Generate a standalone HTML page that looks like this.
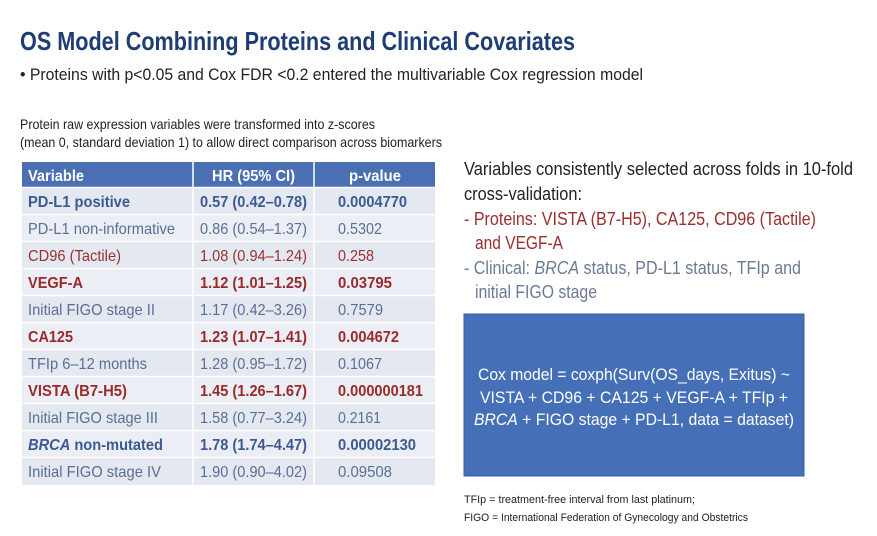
<!DOCTYPE html>
<html><head><meta charset="utf-8"><style>
html,body{margin:0;padding:0;background:#fff;}
svg{display:block;font-family:"Liberation Sans",Arial,sans-serif;}
</style></head><body>
<svg width="877" height="536" viewBox="0 0 877 536" xmlns="http://www.w3.org/2000/svg">
<rect width="877" height="536" fill="#fff"/>
<text x="20" y="50" font-size="26" font-weight="bold" fill="#1f3d75" textLength="555" lengthAdjust="spacingAndGlyphs">OS Model Combining Proteins and Clinical Covariates</text>
<text x="20" y="80" font-size="17" fill="#222" textLength="623" lengthAdjust="spacingAndGlyphs">• Proteins with p&lt;0.05 and Cox FDR &lt;0.2 entered the multivariable Cox regression model</text>
<text x="20" y="129" font-size="14" fill="#222" textLength="355" lengthAdjust="spacingAndGlyphs">Protein raw expression variables were transformed into z-scores</text>
<text x="20" y="147" font-size="14" fill="#222" textLength="422" lengthAdjust="spacingAndGlyphs">(mean 0, standard deviation 1) to allow direct comparison across biomarkers</text>

<rect x="22" y="162" width="413" height="25" fill="#4a6fb3"/>
<rect x="22" y="188" width="413" height="297" fill="#e3e8f1"/>
<g fill="#ebeef5">
<rect x="22" y="215" width="413" height="26"/><rect x="22" y="269" width="413" height="26"/><rect x="22" y="323" width="413" height="26"/><rect x="22" y="377" width="413" height="26"/><rect x="22" y="431" width="413" height="26"/>
</g>
<g stroke="#fff" stroke-width="1.5">
<line x1="193" y1="162" x2="193" y2="485"/><line x1="314" y1="162" x2="314" y2="485"/>
<line x1="22" y1="187.5" x2="435" y2="187.5"/><line x1="22" y1="214.5" x2="435" y2="214.5"/><line x1="22" y1="241.5" x2="435" y2="241.5"/><line x1="22" y1="268.5" x2="435" y2="268.5"/><line x1="22" y1="295.5" x2="435" y2="295.5"/><line x1="22" y1="322.5" x2="435" y2="322.5"/><line x1="22" y1="349.5" x2="435" y2="349.5"/><line x1="22" y1="376.5" x2="435" y2="376.5"/><line x1="22" y1="403.5" x2="435" y2="403.5"/><line x1="22" y1="430.5" x2="435" y2="430.5"/><line x1="22" y1="457.5" x2="435" y2="457.5"/>
</g>
<g font-size="16" font-weight="bold" fill="#fff">
<text x="28" y="181" textLength="56" lengthAdjust="spacingAndGlyphs">Variable</text>
<text x="212" y="181" textLength="83" lengthAdjust="spacingAndGlyphs">HR (95% CI)</text>
<text x="349" y="181" textLength="52" lengthAdjust="spacingAndGlyphs">p-value</text>
</g>
<g font-size="16">
<g font-weight="bold" fill="#3b5a92"><text x="28" y="207" textLength="102" lengthAdjust="spacingAndGlyphs">PD-L1 positive</text><text x="200" y="207" textLength="107" lengthAdjust="spacingAndGlyphs">0.57 (0.42–0.78)</text><text x="338" y="207" textLength="69" lengthAdjust="spacingAndGlyphs">0.0004770</text></g>
<g fill="#5b6f93"><text x="28" y="234" textLength="147" lengthAdjust="spacingAndGlyphs">PD-L1 non-informative</text><text x="200" y="234" textLength="107" lengthAdjust="spacingAndGlyphs">0.86 (0.54–1.37)</text><text x="338" y="234" textLength="44" lengthAdjust="spacingAndGlyphs">0.5302</text></g>
<g fill="#9a3030"><text x="28" y="261" textLength="93" lengthAdjust="spacingAndGlyphs">CD96 (Tactile)</text><text x="200" y="261" textLength="107" lengthAdjust="spacingAndGlyphs">1.08 (0.94–1.24)</text><text x="338" y="261" textLength="36" lengthAdjust="spacingAndGlyphs">0.258</text></g>
<g font-weight="bold" fill="#9a2a2a"><text x="28" y="288" textLength="55" lengthAdjust="spacingAndGlyphs">VEGF-A</text><text x="200" y="288" textLength="107" lengthAdjust="spacingAndGlyphs">1.12 (1.01–1.25)</text><text x="338" y="288" textLength="54" lengthAdjust="spacingAndGlyphs">0.03795</text></g>
<g fill="#5b6f93"><text x="28" y="315" textLength="127" lengthAdjust="spacingAndGlyphs">Initial FIGO stage II</text><text x="200" y="315" textLength="107" lengthAdjust="spacingAndGlyphs">1.17 (0.42–3.26)</text><text x="338" y="315" textLength="45" lengthAdjust="spacingAndGlyphs">0.7579</text></g>
<g font-weight="bold" fill="#9a2a2a"><text x="28" y="342" textLength="45" lengthAdjust="spacingAndGlyphs">CA125</text><text x="200" y="342" textLength="107" lengthAdjust="spacingAndGlyphs">1.23 (1.07–1.41)</text><text x="338" y="342" textLength="61" lengthAdjust="spacingAndGlyphs">0.004672</text></g>
<g fill="#5b6f93"><text x="28" y="369" textLength="119" lengthAdjust="spacingAndGlyphs">TFIp 6–12 months</text><text x="200" y="369" textLength="107" lengthAdjust="spacingAndGlyphs">1.28 (0.95–1.72)</text><text x="338" y="369" textLength="44" lengthAdjust="spacingAndGlyphs">0.1067</text></g>
<g font-weight="bold" fill="#9a2a2a"><text x="28" y="396" textLength="99" lengthAdjust="spacingAndGlyphs">VISTA (B7-H5)</text><text x="200" y="396" textLength="107" lengthAdjust="spacingAndGlyphs">1.45 (1.26–1.67)</text><text x="338" y="396" textLength="85" lengthAdjust="spacingAndGlyphs">0.000000181</text></g>
<g fill="#5b6f93"><text x="28" y="423" textLength="130" lengthAdjust="spacingAndGlyphs">Initial FIGO stage III</text><text x="200" y="423" textLength="107" lengthAdjust="spacingAndGlyphs">1.58 (0.77–3.24)</text><text x="338" y="423" textLength="43" lengthAdjust="spacingAndGlyphs">0.2161</text></g>
<g font-weight="bold" fill="#3b5a92"><text x="28" y="450" textLength="135" lengthAdjust="spacingAndGlyphs"><tspan font-style="italic">BRCA</tspan> non-mutated</text><text x="200" y="450" textLength="107" lengthAdjust="spacingAndGlyphs">1.78 (1.74–4.47)</text><text x="338" y="450" textLength="78" lengthAdjust="spacingAndGlyphs">0.00002130</text></g>
<g fill="#5b6f93"><text x="28" y="477" textLength="133" lengthAdjust="spacingAndGlyphs">Initial FIGO stage IV</text><text x="200" y="477" textLength="107" lengthAdjust="spacingAndGlyphs">1.90 (0.90–4.02)</text><text x="338" y="477" textLength="54" lengthAdjust="spacingAndGlyphs">0.09508</text></g>
</g>

<g font-size="18">
<text x="464" y="175" fill="#222" textLength="389" lengthAdjust="spacingAndGlyphs">Variables consistently selected across folds in 10-fold</text>
<text x="464" y="200" fill="#222" textLength="118" lengthAdjust="spacingAndGlyphs">cross-validation:</text>
<text x="464" y="225" fill="#9a2f2f" textLength="352" lengthAdjust="spacingAndGlyphs">- Proteins: VISTA (B7-H5), CA125, CD96 (Tactile)</text>
<text x="475" y="249" fill="#9a2f2f" textLength="88" lengthAdjust="spacingAndGlyphs">and VEGF-A</text>
<text x="464" y="274" fill="#6b7b96" textLength="337" lengthAdjust="spacingAndGlyphs">- Clinical: <tspan font-style="italic">BRCA</tspan> status, PD-L1 status, TFIp and</text>
<text x="475" y="298" fill="#6b7b96" textLength="122" lengthAdjust="spacingAndGlyphs">initial FIGO stage</text>
</g>
<rect x="464" y="314" width="340" height="162" fill="#4570b7" stroke="#3a5f9e" stroke-width="1"/>
<g font-size="17" fill="#fff" text-anchor="middle">
<text x="634" y="380" textLength="312" lengthAdjust="spacingAndGlyphs">Cox model = coxph(Surv(OS_days, Exitus) ~</text>
<text x="634" y="403" textLength="308" lengthAdjust="spacingAndGlyphs">VISTA + CD96 + CA125 + VEGF-A + TFIp +</text>
<text x="634" y="425" textLength="320" lengthAdjust="spacingAndGlyphs"><tspan font-style="italic">BRCA</tspan> + FIGO stage + PD-L1, data = dataset)</text>
</g>
<g font-size="11" fill="#222">
<text x="464" y="503" textLength="231" lengthAdjust="spacingAndGlyphs">TFIp = treatment-free interval from last platinum;</text>
<text x="464" y="521" textLength="284" lengthAdjust="spacingAndGlyphs">FIGO = International Federation of Gynecology and Obstetrics</text>
</g>
</svg>
</body></html>
